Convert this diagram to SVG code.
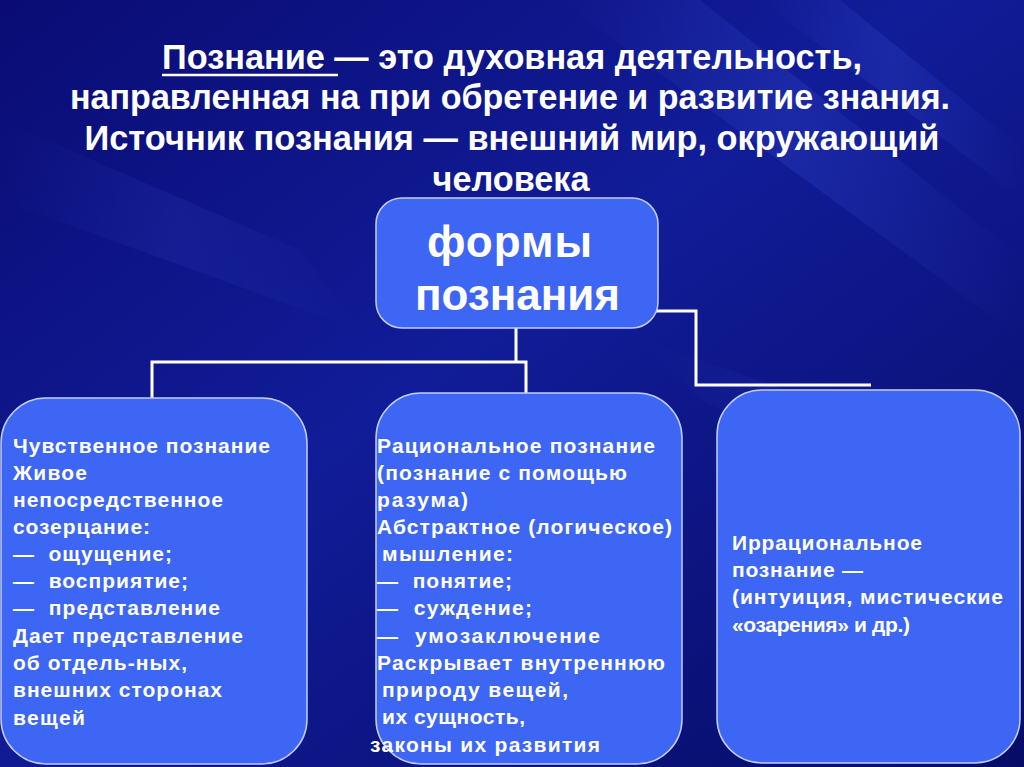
<svg xmlns="http://www.w3.org/2000/svg" width="1024" height="767" viewBox="0 0 1024 767">
<defs>
<linearGradient id="bg" x1="0" y1="0" x2="1" y2="1">
<stop offset="0" stop-color="#0a0c74"/>
<stop offset="0.45" stop-color="#111c98"/>
<stop offset="1" stop-color="#060c66"/>
</linearGradient>
<linearGradient id="streak" x1="0" y1="0" x2="1" y2="0">
<stop offset="0" stop-color="#5070ff" stop-opacity="0"/>
<stop offset="0.5" stop-color="#5070ff" stop-opacity="0.16"/>
<stop offset="1" stop-color="#5070ff" stop-opacity="0"/>
</linearGradient>
<style>
.title{font-family:"Liberation Sans",Arial,sans-serif;font-weight:bold;font-size:35px;fill:#ffffff;text-anchor:middle}
.big{font-family:"Liberation Sans",Arial,sans-serif;font-weight:bold;font-size:44px;fill:#ffffff}
.t{font-family:"Liberation Sans",Arial,sans-serif;font-weight:bold;font-size:21px;fill:#ffffff}
.box{fill:#3d66f4;stroke:#c2cdf5;stroke-width:1.5}
.conn{fill:none;stroke:#ffffff;stroke-width:3}
</style>
</defs>
<rect width="1024" height="767" fill="url(#bg)"/>
<g id="background-streaks">
<polygon points="560,0 700,0 1024,260 1024,340" fill="url(#streak)"/>
<polygon points="760,0 840,0 1024,150 1024,200" fill="url(#streak)"/>
<polygon points="0,120 0,200 360,330 300,250" fill="url(#streak)" opacity="0.6"/>
<polygon points="640,340 1024,470 1024,540 700,400" fill="url(#streak)" opacity="0.6"/>
</g>
<g id="title">
<text class="title" x="512" y="69" textLength="700" lengthAdjust="spacingAndGlyphs">Познание — это духовная деятельность,</text>
<line x1="162" y1="75" x2="338" y2="75" stroke="#ffffff" stroke-width="2.5"/>
<text class="title" x="510" y="109" textLength="880" lengthAdjust="spacingAndGlyphs">направленная на при обретение и развитие знания.</text>
<text class="title" x="512" y="150" textLength="855" lengthAdjust="spacingAndGlyphs">Источник познания — внешний мир, окружающий</text>
<text class="title" x="511" y="191" textLength="157" lengthAdjust="spacingAndGlyphs">человека</text>
</g>
<g id="connectors">
<path class="conn" d="M152,402 V362 H526 V395"/>
<path class="conn" d="M516,326 V362"/>
<path class="conn" d="M655,311 H696 V385 H871"/>
</g>
<g id="node-forms">
<rect class="box" x="376" y="198" width="282" height="130" rx="26"/>
<text class="big" x="427" y="257" textLength="165">формы</text>
<text class="big" x="415" y="310" textLength="205">познания</text>
</g>
<g id="node-sensory">
<rect class="box" x="1" y="398" width="306" height="366" rx="45"/>
<text class="t" x="13" y="453" textLength="257">Чувственное познание</text>
<text class="t" x="13" y="480" textLength="74">Живое</text>
<text class="t" x="13" y="507" textLength="210">непосредственное</text>
<text class="t" x="13" y="534" textLength="137">созерцание:</text>
<text class="t" x="13" y="561" xml:space="preserve" textLength="159">—  ощущение;</text>
<text class="t" x="13" y="588" xml:space="preserve" textLength="175">—  восприятие;</text>
<text class="t" x="13" y="615" xml:space="preserve" textLength="207">—  представление</text>
<text class="t" x="13" y="643" textLength="230">Дает представление</text>
<text class="t" x="13" y="670" textLength="174">об отдель-ных,</text>
<text class="t" x="13" y="697" textLength="209">внешних сторонах</text>
<text class="t" x="13" y="725" textLength="72">вещей</text>
</g>
<g id="node-rational">
<rect class="box" x="376" y="393" width="306" height="371" rx="45"/>
<text class="t" x="377" y="453" textLength="278">Рациональное познание</text>
<text class="t" x="377" y="480" textLength="250">(познание с помощью</text>
<text class="t" x="377" y="507" textLength="91">разума)</text>
<text class="t" x="377" y="534" textLength="295">Абстрактное (логическое)</text>
<text class="t" x="382" y="561" textLength="131">мышление:</text>
<text class="t" x="377" y="588" xml:space="preserve" textLength="135">—  понятие;</text>
<text class="t" x="377" y="615" xml:space="preserve" textLength="155">—  суждение;</text>
<text class="t" x="377" y="643" xml:space="preserve" textLength="223">—  умозаключение</text>
<text class="t" x="377" y="670" textLength="288">Раскрывает внутреннюю</text>
<text class="t" x="382" y="697" textLength="186">природу вещей,</text>
<text class="t" x="382" y="724" textLength="143">их сущность,</text>
<text class="t" x="370" y="752" textLength="230">законы их развития</text>
</g>
<g id="node-irrational">
<rect class="box" x="717" y="390" width="303" height="373" rx="45"/>
<text class="t" x="732" y="550" textLength="190">Иррациональное</text>
<text class="t" x="732" y="577" textLength="131">познание —</text>
<text class="t" x="732" y="604" textLength="271">(интуиция, мистические</text>
<text class="t" x="732" y="632" textLength="178">«озарения» и др.)</text>
</g>
</svg>
